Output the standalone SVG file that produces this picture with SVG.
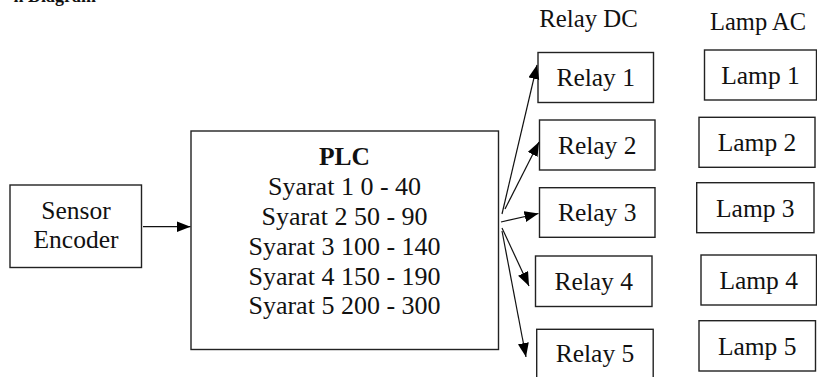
<svg xmlns="http://www.w3.org/2000/svg" width="817" height="377" viewBox="0 0 817 377">
<style>
.box{fill:#fff;stroke:#222;stroke-width:1.4}
.t{font-family:"Liberation Serif","Times New Roman",serif;font-size:25.5px;fill:#111;text-anchor:middle}
.p{font-size:26px}
.b{font-weight:bold}
.conn line{stroke:#111;stroke-width:1.2;fill:none}
</style>
<defs>
<marker id="ah" markerUnits="userSpaceOnUse" markerWidth="16" markerHeight="12" refX="14" refY="5.5" orient="auto">
<path d="M0,0 L14,5.5 L0,11 Z" fill="#000"/>
</marker>
</defs>
<rect width="817" height="377" fill="#fff"/>
<text x="96" y="1.5" class="t b" style="font-size:18px;text-anchor:end">n Diagram</text>
<text id="hdr-relay" x="588.5" y="27" class="t" style="font-size:24.8px">Relay DC</text>
<text id="hdr-lamp" x="758" y="30" class="t" style="font-size:24.5px">Lamp AC</text>
<g id="sensor">
<rect class="box" x="10" y="185" width="131.5" height="82.5"/>
<text class="t" x="76" y="219.3">Sensor</text>
<text class="t" x="76" y="248.3">Encoder</text>
</g>
<g id="plc">
<rect class="box" x="191" y="131" width="307.5" height="218.5"/>
<text class="t b" x="344.5" y="165">PLC</text>
<text class="t p" x="344.5" y="195">Syarat 1 0 - 40</text>
<text class="t p" x="344.5" y="225">Syarat 2 50 - 90</text>
<text class="t p" x="344.5" y="254.5">Syarat 3 100 - 140</text>
<text class="t p" x="344.5" y="284.5">Syarat 4 150 - 190</text>
<text class="t p" x="344.5" y="314">Syarat 5 200 - 300</text>
</g>
<g id="relay1"><rect class="box" x="538" y="52.5" width="115.5" height="50"/><text class="t" x="595.7" y="86">Relay 1</text></g>
<g id="relay2"><rect class="box" x="539.5" y="120" width="115.5" height="50"/><text class="t" x="597.2" y="153.5">Relay 2</text></g>
<g id="relay3"><rect class="box" x="539.5" y="187.7" width="115.5" height="49.6"/><text class="t" x="597.2" y="221">Relay 3</text></g>
<g id="relay4"><rect class="box" x="535.5" y="256" width="116.5" height="50.5"/><text class="t" x="593.7" y="290">Relay 4</text></g>
<g id="relay5"><rect class="box" x="536.7" y="329.3" width="116.5" height="50"/><text class="t" x="595" y="361.7">Relay 5</text></g>
<g id="lamp1"><rect class="box" x="704.5" y="50" width="112" height="50"/><text class="t" x="760.5" y="84">Lamp 1</text></g>
<g id="lamp2"><rect class="box" x="699" y="117.3" width="116" height="50"/><text class="t" x="757" y="151.3">Lamp 2</text></g>
<g id="lamp3"><rect class="box" x="696.7" y="182.7" width="117.3" height="50"/><text class="t" x="755.3" y="216.7">Lamp 3</text></g>
<g id="lamp4"><rect class="box" x="701" y="255" width="115.5" height="50"/><text class="t" x="758.7" y="289">Lamp 4</text></g>
<g id="lamp5"><rect class="box" x="699" y="320.7" width="116.5" height="50.3"/><text class="t" x="757.2" y="355">Lamp 5</text></g>
<g class="conn" id="connectors">
<line x1="143" y1="226.7" x2="190.5" y2="226.7" marker-end="url(#ah)"/>
<line x1="502" y1="214" x2="537" y2="65" marker-end="url(#ah)"/>
<line x1="505" y1="209" x2="539" y2="142" marker-end="url(#ah)"/>
<line x1="501" y1="222" x2="538.5" y2="213.5" marker-end="url(#ah)"/>
<line x1="502" y1="228" x2="529" y2="286" marker-end="url(#ah)"/>
<line x1="502" y1="231" x2="526" y2="357" marker-end="url(#ah)"/>
</g>
</svg>
